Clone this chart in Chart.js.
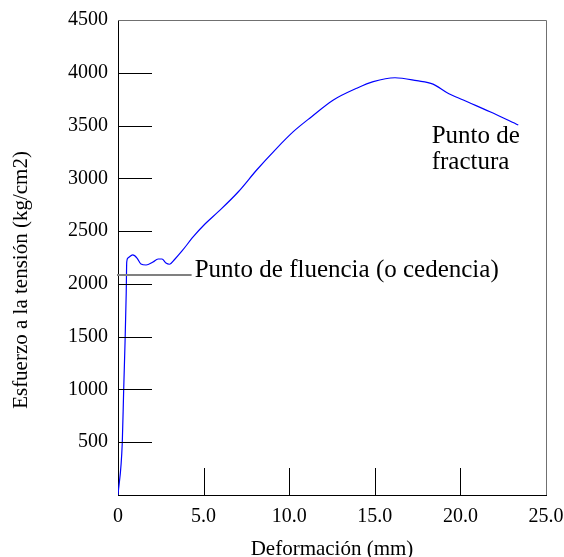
<!DOCTYPE html>
<html>
<head>
<meta charset="utf-8">
<script src="https://cdn.jsdelivr.net/npm/chart.js@4/dist/chart.umd.min.js"></script>
<style>
  html, body { margin: 0; padding: 0; background: #ffffff; }
  canvas { display: block; }
</style>
</head>
<body>
<canvas id="c" width="564" height="557"></canvas>
<script>
// ---- Data ----
const deformacion = [0, 0.25, 0.33, 0.41, 0.48, 0.51, 0.58, 0.86, 1.11, 1.34, 1.64, 2.04, 2.34, 2.57, 2.80, 3.00, 3.33, 3.74, 4.40, 5.08, 5.86, 7.03, 8.10, 9.17, 10.24, 11.31, 12.58, 13.94, 14.91, 16.18, 17.45, 18.40, 19.20, 20.17, 21.73, 23.38];
const esfuerzo    = [0, 495, 985, 1440, 1914, 2207, 2245, 2274, 2245, 2188, 2179, 2207, 2236, 2236, 2198, 2186, 2236, 2312, 2447, 2567, 2684, 2873, 3079, 3268, 3442, 3584, 3742, 3853, 3916, 3953, 3925, 3893, 3814, 3742, 3631, 3505];

const xTickValues = [0, 5, 10, 15, 20, 25];
const yTickValues = [500, 1000, 1500, 2000, 2500, 3000, 3500, 4000, 4500];

const yieldStress = 2080;      // horizontal marker "Punto de fluencia"
const yieldLineEnd = 4.3;      // x extent of that marker
const yieldLabel = 'Punto de fluencia (o cedencia)';
const fractureLabel = ['Punto de', 'fractura'];
const xTitle = 'Deformación (mm)';
const yTitle = 'Esfuerzo a la tensión (kg/cm2)';

const FONT = '"Liberation Serif", "Times New Roman", serif';

const points = deformacion.map((x, i) => ({ x: x, y: esfuerzo[i] }));

const decorPlugin = {
  id: 'decor',
  afterDraw(chart) {
    const { ctx, chartArea: a, scales: { x, y } } = chart;
    ctx.save();
    ctx.lineWidth = 1;
    // top and right frame
    ctx.strokeStyle = '#707070';
    ctx.beginPath();
    ctx.moveTo(a.left, Math.round(a.top) + 0.5);
    ctx.lineTo(Math.round(a.right) + 0.5, Math.round(a.top) + 0.5);
    ctx.lineTo(Math.round(a.right) + 0.5, a.bottom);
    ctx.stroke();
    // inner y ticks
    ctx.strokeStyle = '#000000';
    yTickValues.forEach(v => {
      if (v >= 4500) return;
      const py = Math.round(y.getPixelForValue(v)) + 0.5;
      ctx.beginPath();
      ctx.moveTo(a.left, py);
      ctx.lineTo(a.left + 34, py);
      ctx.stroke();
    });
    // inner x ticks
    xTickValues.forEach(v => {
      if (v <= 0 || v >= 25) return;
      const px = Math.round(x.getPixelForValue(v)) + 0.5;
      ctx.beginPath();
      ctx.moveTo(px, a.bottom);
      ctx.lineTo(px, a.bottom - 27);
      ctx.stroke();
    });
    // yield marker
    ctx.strokeStyle = '#808080';
    ctx.lineWidth = 2;
    const yy = Math.round(y.getPixelForValue(yieldStress));
    ctx.beginPath();
    ctx.moveTo(a.left - 1, yy);
    ctx.lineTo(x.getPixelForValue(yieldLineEnd), yy);
    ctx.stroke();
    // annotations
    ctx.fillStyle = '#000000';
    ctx.font = '25px ' + FONT;
    ctx.textAlign = 'left';
    ctx.textBaseline = 'alphabetic';
    ctx.fillText(yieldLabel, x.getPixelForValue(4.48), yy + 2);
    ctx.fillText(fractureLabel[0], x.getPixelForValue(18.32), y.getPixelForValue(3335));
    ctx.fillText(fractureLabel[1], x.getPixelForValue(18.32), y.getPixelForValue(3088));
    // y axis title
    ctx.font = '21px ' + FONT;
    ctx.translate(21, 280);
    ctx.rotate(-Math.PI / 2);
    ctx.textAlign = 'center';
    ctx.textBaseline = 'middle';
    ctx.fillText(yTitle, 0, 0);
    ctx.restore();
  }
};

new Chart(document.getElementById('c'), {
  type: 'line',
  data: {
    datasets: [{
      data: points,
      borderColor: '#0000ff',
      borderWidth: 1.2,
      pointRadius: 0,
      fill: false,
      cubicInterpolationMode: 'monotone'
    }]
  },
  options: {
    responsive: false,
    animation: false,
    layout: { padding: { top: 20, right: 18, left: 0, bottom: 0 } },
    plugins: { legend: { display: false }, tooltip: { enabled: false } },
    scales: {
      x: {
        type: 'linear',
        min: 0, max: 25,
        afterBuildTicks: s => { s.ticks = xTickValues.map(v => ({ value: v })); },
        afterFit: s => { s.height = 62; s.paddingLeft = 0; s.paddingRight = 0; },
        grid: { display: false, drawTicks: false },
        border: { display: true, color: '#000000', width: 1 },
        ticks: {
          color: '#000000',
          padding: 10,
          maxRotation: 0,
          autoSkip: false,
          font: { family: FONT, size: 20 },
          callback: v => v === 0 ? '0' : Number(v).toFixed(1)
        },
        title: {
          display: true,
          text: xTitle,
          color: '#000000',
          font: { family: FONT, size: 21, lineHeight: 1 },
          padding: { top: 0, bottom: -3 }
        }
      },
      y: {
        type: 'linear',
        min: 0, max: 4500,
        afterBuildTicks: s => { s.ticks = yTickValues.map(v => ({ value: v })); },
        afterFit: s => { s.width = 118; s.paddingTop = 0; s.paddingBottom = 0; },
        grid: { display: false, drawTicks: false },
        border: { display: true, color: '#000000', width: 1 },
        ticks: {
          color: '#000000',
          padding: 10,
          autoSkip: false,
          font: { family: FONT, size: 20 },
          callback: v => String(v)
        }
      }
    }
  },
  plugins: [decorPlugin]
});
</script>
</body>
</html>
